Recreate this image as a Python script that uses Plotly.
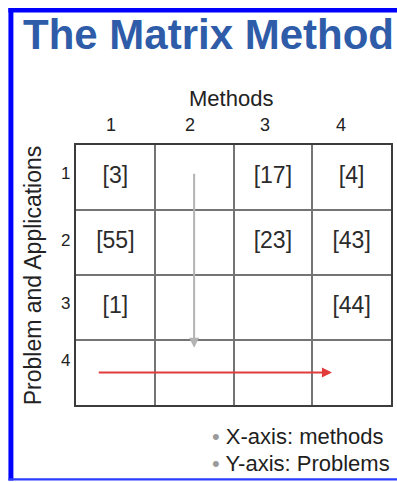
import plotly.graph_objects as go

# ---------------- data ----------------
methods = [1, 2, 3, 4]
problems = [1, 2, 3, 4]
# reference counts shown in cells, row = problem, column = method (None = empty cell)
counts_p1 = [3, None, 17, 4]
counts_p2 = [55, None, 23, 43]
counts_p3 = [1, None, None, 44]
counts_p4 = [None, None, None, None]
counts = [counts_p1, counts_p2, counts_p3, counts_p4]

title_text = "The Matrix Method"
x_title = "Methods"
y_title = "Problem and Applications"
bullets = ["X-axis: methods", "Y-axis: Problems"]

# direction arrows (data coordinates: method, problem)
gray_arrow_method = 2
gray_arrow_from, gray_arrow_to = 0.92, 3.62
red_arrow_problem = 4.0
red_arrow_from, red_arrow_to = 0.77, 3.75

# ---------------- layout geometry / styles ----------------
W, H = 397, 482
L, R, T, B = 76, 393, 145, 405
FONT = "Liberation Sans, Arial, sans-serif"
COL_LABEL_SHIFT = [-4, -4, -8, -11]
ROW_LABEL_SHIFT = [4, 2, 4, 12]


def px_x(px):
    return (px - L) / (R - L)


def px_y(py):
    return (B - py) / (B - T)


xs, ys, texts = [], [], []
for pi, row in enumerate(counts):
    for mi, v in enumerate(row):
        if v is not None:
            xs.append(methods[mi])
            ys.append(problems[pi])
            texts.append(f"[{v}]")

fig = go.Figure()
fig.add_trace(go.Scatter(
    x=xs, y=ys, text=texts, mode="text",
    textfont=dict(family=FONT, size=23, color="#2b2b2b"),
    hoverinfo="skip", showlegend=False,
))

annotations = []
# title
annotations.append(dict(
    text=f"<b>{title_text}</b>", xref="paper", yref="paper",
    x=px_x(21), y=px_y(35), xanchor="left", yanchor="middle",
    showarrow=False, font=dict(family=FONT, size=42, color="#2e5ca8"),
))
# x title
annotations.append(dict(
    text=x_title, xref="paper", yref="paper", x=px_x(232), y=px_y(98),
    xanchor="center", yanchor="middle", showarrow=False,
    font=dict(family=FONT, size=22, color="#222222"),
))
# column labels
for m, s in zip(methods, COL_LABEL_SHIFT):
    annotations.append(dict(
        text=str(m), xref="x", yref="paper", x=m, y=px_y(125), xshift=s,
        xanchor="center", yanchor="middle", showarrow=False,
        font=dict(family=FONT, size=18, color="#222222"),
    ))
# row labels
for p, s in zip(problems, ROW_LABEL_SHIFT):
    annotations.append(dict(
        text=str(p), xref="paper", yref="y", x=px_x(65), y=p, yshift=s,
        xanchor="center", yanchor="middle", showarrow=False,
        font=dict(family=FONT, size=17, color="#222222"),
    ))
# y title
annotations.append(dict(
    text=y_title, xref="paper", yref="paper", x=px_x(33), y=px_y(275),
    xanchor="center", yanchor="middle", textangle=-90, showarrow=False,
    font=dict(family=FONT, size=23, color="#222222"),
))
# arrows
annotations.append(dict(
    text="", xref="x", yref="y", axref="x", ayref="y",
    x=gray_arrow_method, y=gray_arrow_to,
    ax=gray_arrow_method, ay=gray_arrow_from,
    showarrow=True, arrowhead=2, arrowsize=1, arrowwidth=2,
    arrowcolor="#b3b3b3", standoff=0, startstandoff=0,
))
annotations.append(dict(
    text="", xref="x", yref="y", axref="x", ayref="y",
    x=red_arrow_to, y=red_arrow_problem,
    ax=red_arrow_from, ay=red_arrow_problem,
    showarrow=True, arrowhead=2, arrowsize=1, arrowwidth=2,
    arrowcolor="#e23b3b", standoff=0, startstandoff=0,
))
# bullets
for i, (b, py) in enumerate(zip(bullets, [436, 463])):
    annotations.append(dict(
        text=f'<span style="color:#9a9a9a">•</span> {b}',
        xref="paper", yref="paper", x=px_x(211), y=px_y(py),
        xanchor="left", yanchor="middle", showarrow=False,
        font=dict(family=FONT, size=22, color="#1e1e1e"),
    ))

BLUE = "#0000ff"
shapes = [
    dict(type="rect", xref="paper", yref="paper", x0=px_x(8), x1=px_x(400),
         y0=px_y(8), y1=px_y(12.5), fillcolor=BLUE, line=dict(width=0), layer="above"),
    dict(type="rect", xref="paper", yref="paper", x0=px_x(8), x1=px_x(13),
         y0=px_y(8), y1=px_y(480.5), fillcolor=BLUE, line=dict(width=0), layer="above"),
    dict(type="rect", xref="paper", yref="paper", x0=px_x(8), x1=px_x(400),
         y0=px_y(478.3), y1=px_y(480.5), fillcolor="#2a3cff", line=dict(width=0), layer="above"),
]

axis_common = dict(
    showticklabels=False, ticks="", showgrid=True, gridcolor="#747474", gridwidth=1.6,
    zeroline=False, showline=True, mirror=True, linecolor="#3c3c3c", linewidth=2,
    tickvals=[1.5, 2.5, 3.5], fixedrange=True,
)

fig.update_layout(
    width=W, height=H, autosize=False,
    margin=dict(l=L, r=W - R, t=T, b=H - B, pad=0),
    paper_bgcolor="white", plot_bgcolor="white",
    xaxis=dict(range=[0.5, 4.5], **axis_common),
    yaxis=dict(range=[4.5, 0.5], **axis_common),
    annotations=annotations, shapes=shapes, showlegend=False,
)

fig.write_html(
    "out.html",
    config={"displayModeBar": False},
    post_script="document.body.style.margin='0px';document.body.style.overflow='hidden';",
)
